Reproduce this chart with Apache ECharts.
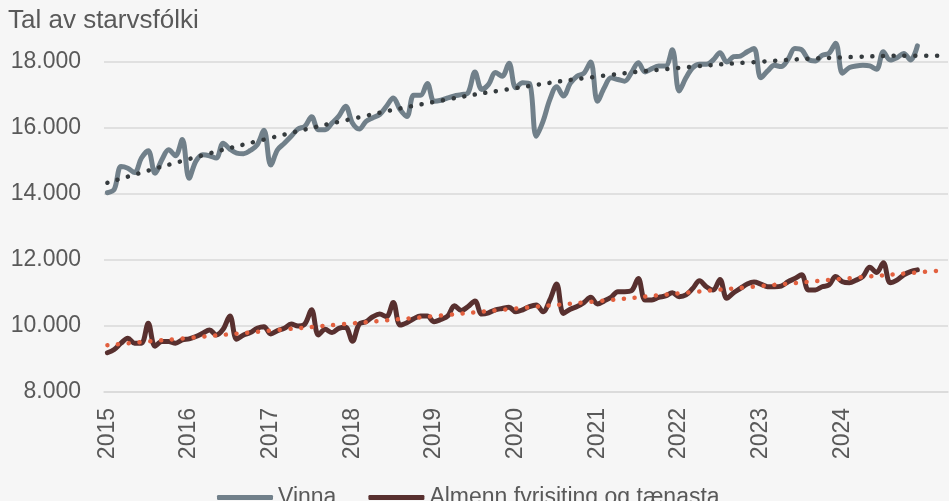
<!DOCTYPE html>
<html>
<head>
<meta charset="utf-8">
<script src="https://cdn.jsdelivr.net/npm/echarts@6/dist/echarts.min.js"></script>
<style>
  html, body { margin: 0; padding: 0; background: #f6f6f6; }
  #main { width: 949px; height: 501px; }
</style>
</head>
<body>
<div id="main"></div>
<script>
// years shown on the axis, the axis runs a few months past the data
var years = ['2015', '2016', '2017', '2018', '2019', '2020', '2021', '2022', '2023', '2024'];
var padYear = '2025';
var padMonths = 4;

// monthly values, jan 2015 - dec 2024
var vinna = [
  14040, 14140, 14830, 14780, 14650, 15090, 15310, 14630, 15040, 15340, 15160, 15650,
  14480, 14990, 15190, 15160, 15090, 15540, 15360, 15240, 15220, 15320, 15490, 15930,
  14880, 15340, 15540, 15750, 15970, 16050, 16340, 15950, 15950, 16150, 16360, 16660,
  16150, 15970, 16200, 16310, 16410, 16660, 16910, 16560, 16350, 16990, 16990, 17350,
  16810, 16840, 16910, 16970, 17010, 17070, 17700, 17170, 17320, 17680, 17570, 17960,
  17220, 17370, 17350, 15750, 16200, 16860, 17250, 16970, 17350, 17570, 17660, 18000,
  16810, 17220, 17520, 17470, 17420, 17680, 17980, 17700, 17800, 17880, 17880, 18370,
  17120, 17520, 17830, 17930, 17930, 18060, 18280, 18000, 18160, 18180, 18310, 18410,
  17520, 17730, 17900, 17860, 18080, 18410, 18370, 18080, 18030, 18200, 18260, 18570,
  17660, 17830, 17880, 17900, 17880, 17780, 18310, 18060, 18130, 18260, 18060, 18490
];
var almenn = [
  9190, 9290, 9480, 9630, 9480, 9480, 10080, 9390, 9530, 9530, 9480, 9580,
  9610, 9680, 9780, 9880, 9730, 9900, 10300, 9600, 9730, 9800, 9930, 9980,
  9760, 9860, 9930, 10060, 10000, 10060, 10490, 9730, 9900, 9800, 9930, 9960,
  9540, 10060, 10130, 10280, 10360, 10280, 10710, 10030, 10100, 10220, 10300, 10300,
  10130, 10200, 10300, 10610, 10470, 10590, 10760, 10360, 10400, 10490, 10530, 10570,
  10430, 10490, 10590, 10640, 10430, 10790, 11270, 10380, 10510, 10590, 10710, 10870,
  10670, 10760, 10870, 11040, 11040, 11070, 11440, 10790, 10790, 10870, 10910, 11010,
  10890, 10940, 11140, 11370, 11190, 11090, 11410, 10840, 11010, 11140, 11270, 11330,
  11270, 11190, 11190, 11210, 11340, 11440, 11550, 11090, 11090, 11190, 11240, 11500,
  11340, 11310, 11390, 11500, 11780, 11620, 11920, 11310, 11390, 11550, 11650, 11700
];

// trend lines: [month index, value]
var vinnaTrend = [
  [0, 14340], [12, 15060], [24, 15700], [36, 16280], [48, 16790], [60, 17210],
  [72, 17560], [84, 17820], [96, 18010], [108, 18140], [120, 18190], [123, 18190]
];
var almennTrend = [
  [0, 9420], [12, 9640], [24, 9860], [36, 10080], [48, 10300], [60, 10530],
  [72, 10750], [84, 10990], [96, 11210], [108, 11430], [120, 11640], [123, 11690]
];

var months = [];
years.forEach(function (y) {
  for (var m = 1; m <= 12; m++) months.push(y + '-' + m);
});
for (var m = 1; m <= padMonths; m++) months.push(padYear + '-' + m);

function toCat(list) {
  return list.map(function (p) { return [months[p[0]], p[1]]; });
}

var font = 'Liberation Sans';
var grey = '#595959';

var myChart = echarts.init(document.getElementById('main'));

var option = {
  backgroundColor: '#f6f6f6',
  animation: false,
  title: {
    text: 'Tal av starvsfólki',
    left: 8,
    top: 8,
    padding: 0,
    textStyle: { color: grey, fontWeight: 'normal', fontFamily: font, fontSize: 26 }
  },
  legend: {
    data: ['Vinna', 'Almenn fyrisiting og tænasta'],
    left: 212,
    top: 481,
    icon: 'roundRect',
    itemWidth: 56,
    itemHeight: 5,
    itemGap: 32,
    textStyle: { color: grey, fontFamily: font, fontSize: 23 }
  },
  grid: { left: 104, right: 1, top: 62, height: 330, containLabel: false },
  xAxis: {
    type: 'category',
    data: months,
    boundaryGap: true,
    axisLine: { lineStyle: { color: '#d9d9d9', width: 1.5 } },
    axisTick: { inside: true, length: 6, interval: 0, lineStyle: { color: '#d9d9d9' } },
    axisLabel: {
      interval: 11,
      rotate: 90,
      margin: 16,
      color: grey,
      fontFamily: font,
      fontSize: 23,
      formatter: function (v) {
        var y = v.split('-')[0];
        return years.indexOf(y) >= 0 ? y : '';
      }
    },
    splitLine: { show: false }
  },
  yAxis: {
    type: 'value',
    min: 8000,
    max: 18000,
    interval: 2000,
    axisLine: { show: false },
    axisTick: { show: false },
    axisLabel: {
      margin: 23,
      color: grey,
      fontFamily: font,
      fontSize: 23,
      formatter: function (v) { return String(v).replace(/\B(?=(\d{3})+(?!\d))/g, '.'); }
    },
    splitLine: { lineStyle: { color: '#d9d9d9', width: 1.5 } }
  },
  series: [
    {
      name: 'Vinna',
      type: 'line',
      data: vinna,
      smooth: 0.35,
      showSymbol: false,
      clip: false,
      color: '#71808a',
      lineStyle: { width: 5, cap: 'round', join: 'round' }
    },
    {
      name: 'Almenn fyrisiting og tænasta',
      type: 'line',
      data: almenn,
      smooth: 0.35,
      showSymbol: false,
      clip: false,
      color: '#58302f',
      lineStyle: { width: 5, cap: 'round', join: 'round' }
    },
    {
      name: 'Vinna trend',
      type: 'line',
      data: toCat(vinnaTrend),
      smooth: true,
      showSymbol: false,
      clip: false,
      color: '#353b3e',
      lineStyle: { width: 4.5, type: [0.1, 10.7], cap: 'round' }
    },
    {
      name: 'Almenn trend',
      type: 'line',
      data: toCat(almennTrend),
      smooth: true,
      showSymbol: false,
      clip: false,
      color: '#e2603f',
      lineStyle: { width: 4.5, type: [0.1, 10.7], cap: 'round' }
    }
  ]
};

myChart.setOption(option);
</script>
</body>
</html>
